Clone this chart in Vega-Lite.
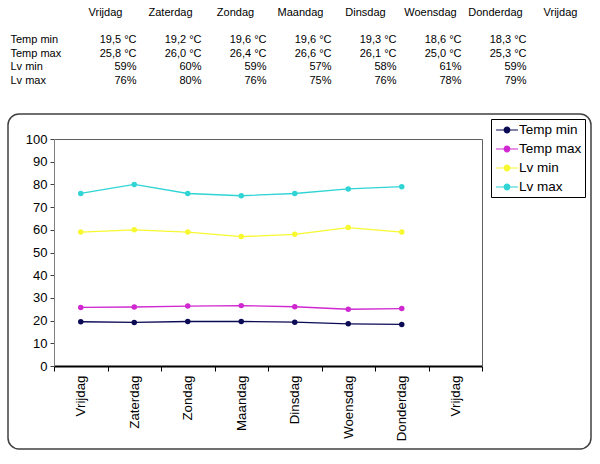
{
  "$schema": "https://vega.github.io/schema/vega-lite/v6.json",
  "padding": {"left": 0, "top": 0, "right": 0, "bottom": 0},
  "spacing": 3,
  "background": "white",
  "config": {"font": "Liberation Sans", "view": {"stroke": null}},
  "datasets": {
    "tabel": [
      {"rij": "head", "kol": 1, "tekst": "Vrijdag"},
      {"rij": "head", "kol": 2, "tekst": "Zaterdag"},
      {"rij": "head", "kol": 3, "tekst": "Zondag"},
      {"rij": "head", "kol": 4, "tekst": "Maandag"},
      {"rij": "head", "kol": 5, "tekst": "Dinsdag"},
      {"rij": "head", "kol": 6, "tekst": "Woensdag"},
      {"rij": "head", "kol": 7, "tekst": "Donderdag"},
      {"rij": "head", "kol": 8, "tekst": "Vrijdag"},
      {"rij": "Temp min", "kol": 0, "tekst": "Temp min"},
      {"rij": "Temp max", "kol": 0, "tekst": "Temp max"},
      {"rij": "Lv min", "kol": 0, "tekst": "Lv min"},
      {"rij": "Lv max", "kol": 0, "tekst": "Lv max"},
      {"rij": "Temp min", "kol": 1, "tekst": "19,5 °C"},
      {"rij": "Temp min", "kol": 2, "tekst": "19,2 °C"},
      {"rij": "Temp min", "kol": 3, "tekst": "19,6 °C"},
      {"rij": "Temp min", "kol": 4, "tekst": "19,6 °C"},
      {"rij": "Temp min", "kol": 5, "tekst": "19,3 °C"},
      {"rij": "Temp min", "kol": 6, "tekst": "18,6 °C"},
      {"rij": "Temp min", "kol": 7, "tekst": "18,3 °C"},
      {"rij": "Temp max", "kol": 1, "tekst": "25,8 °C"},
      {"rij": "Temp max", "kol": 2, "tekst": "26,0 °C"},
      {"rij": "Temp max", "kol": 3, "tekst": "26,4 °C"},
      {"rij": "Temp max", "kol": 4, "tekst": "26,6 °C"},
      {"rij": "Temp max", "kol": 5, "tekst": "26,1 °C"},
      {"rij": "Temp max", "kol": 6, "tekst": "25,0 °C"},
      {"rij": "Temp max", "kol": 7, "tekst": "25,3 °C"},
      {"rij": "Lv min", "kol": 1, "tekst": "59%"},
      {"rij": "Lv min", "kol": 2, "tekst": "60%"},
      {"rij": "Lv min", "kol": 3, "tekst": "59%"},
      {"rij": "Lv min", "kol": 4, "tekst": "57%"},
      {"rij": "Lv min", "kol": 5, "tekst": "58%"},
      {"rij": "Lv min", "kol": 6, "tekst": "61%"},
      {"rij": "Lv min", "kol": 7, "tekst": "59%"},
      {"rij": "Lv max", "kol": 1, "tekst": "76%"},
      {"rij": "Lv max", "kol": 2, "tekst": "80%"},
      {"rij": "Lv max", "kol": 3, "tekst": "76%"},
      {"rij": "Lv max", "kol": 4, "tekst": "75%"},
      {"rij": "Lv max", "kol": 5, "tekst": "76%"},
      {"rij": "Lv max", "kol": 6, "tekst": "78%"},
      {"rij": "Lv max", "kol": 7, "tekst": "79%"}
    ],
    "reeks": [
      {"nr": 1, "serie": "Temp min", "waarde": 19.5},
      {"nr": 2, "serie": "Temp min", "waarde": 19.2},
      {"nr": 3, "serie": "Temp min", "waarde": 19.6},
      {"nr": 4, "serie": "Temp min", "waarde": 19.6},
      {"nr": 5, "serie": "Temp min", "waarde": 19.3},
      {"nr": 6, "serie": "Temp min", "waarde": 18.6},
      {"nr": 7, "serie": "Temp min", "waarde": 18.3},
      {"nr": 1, "serie": "Temp max", "waarde": 25.8},
      {"nr": 2, "serie": "Temp max", "waarde": 26.0},
      {"nr": 3, "serie": "Temp max", "waarde": 26.4},
      {"nr": 4, "serie": "Temp max", "waarde": 26.6},
      {"nr": 5, "serie": "Temp max", "waarde": 26.1},
      {"nr": 6, "serie": "Temp max", "waarde": 25.0},
      {"nr": 7, "serie": "Temp max", "waarde": 25.3},
      {"nr": 1, "serie": "Lv min", "waarde": 59},
      {"nr": 2, "serie": "Lv min", "waarde": 60},
      {"nr": 3, "serie": "Lv min", "waarde": 59},
      {"nr": 4, "serie": "Lv min", "waarde": 57},
      {"nr": 5, "serie": "Lv min", "waarde": 58},
      {"nr": 6, "serie": "Lv min", "waarde": 61},
      {"nr": 7, "serie": "Lv min", "waarde": 59},
      {"nr": 1, "serie": "Lv max", "waarde": 76},
      {"nr": 2, "serie": "Lv max", "waarde": 80},
      {"nr": 3, "serie": "Lv max", "waarde": 76},
      {"nr": 4, "serie": "Lv max", "waarde": 75},
      {"nr": 5, "serie": "Lv max", "waarde": 76},
      {"nr": 6, "serie": "Lv max", "waarde": 78},
      {"nr": 7, "serie": "Lv max", "waarde": 79}
    ]
  },
  "vconcat": [
    {
      "width": 583,
      "height": 110,
      "data": {"name": "tabel"},
      "encoding": {
        "x": {"field": "kol", "type": "quantitative", "axis": null,
              "scale": {"domain": [0, 8], "range": [32.5, 552.5], "nice": false, "zero": false}},
        "y": {"field": "rij", "type": "ordinal", "axis": null,
              "scale": {"type": "point", "domain": ["head", "gap", "Temp min", "Temp max", "Lv min", "Lv max"], "range": [13, 81], "padding": 0}},
        "text": {"field": "tekst"}
      },
      "layer": [
        {"transform": [{"filter": "datum.rij == 'head'"}],
         "mark": {"type": "text", "align": "center", "baseline": "middle", "fontSize": 11, "color": "black"}},
        {"transform": [{"filter": "datum.rij != 'head' && datum.kol > 0"}],
         "mark": {"type": "text", "align": "right", "baseline": "middle", "dx": 31, "fontSize": 11, "color": "black"}},
        {"transform": [{"filter": "datum.kol == 0"}],
         "mark": {"type": "text", "align": "left", "baseline": "middle", "dx": -30, "fontSize": 11, "color": "black"}}
      ]
    },
    {
      "width": 583,
      "height": 335,
      "view": {"stroke": "#404040", "strokeWidth": 1.5, "cornerRadius": 11, "fill": "white"},
      "data": {"name": "reeks"},
      "encoding": {
        "x": {"field": "nr", "type": "ordinal",
              "scale": {"type": "band", "domain": [1, 2, 3, 4, 5, 6, 7, 8], "range": [46, 474], "paddingInner": 0, "paddingOuter": 0}},
        "y": {"field": "waarde", "type": "quantitative",
              "scale": {"domain": [0, 100], "range": [252, 25], "nice": false, "zero": true}},
        "color": {"field": "serie", "type": "nominal",
                  "scale": {"domain": ["Temp min", "Temp max", "Lv min", "Lv max"], "range": ["#0A0A55", "#D028D0", "#F8F830", "#30D4D4"]},
                  "legend": {"title": null, "orient": "none", "legendX": 483, "legendY": 119,
                             "strokeColor": "#000000", "fillColor": "white", "padding": 3, "rowPadding": 4,
                             "labelFont": "Liberation Sans", "labelFontSize": 13.5, "labelColor": "black", "labelOffset": 4,
                             "symbolType": "M-1.57,0L1.57,0M-0.4,0A0.4,0.4,0,1,0,0.4,0A0.4,0.4,0,1,0,-0.4,0Z",
                             "symbolSize": 196, "symbolStrokeWidth": 1.2, "symbolOffset": 5,
                             "encode": {"symbols": {"update": {"fill": {"scale": "color", "field": "value"}, "stroke": {"scale": "color", "field": "value"}, "opacity": {"value": 1}}}}}}
      },
      "resolve": {"axis": {"x": "independent", "y": "independent"}},
      "layer": [
        {
          "mark": {"type": "line", "strokeWidth": 1.3},
          "encoding": {
            "x": {"field": "nr", "type": "ordinal",
                  "axis": {"orient": "bottom", "offset": -83, "title": null, "tickBand": "extent",
                           "labelExpr": "['', 'Vrijdag', 'Zaterdag', 'Zondag', 'Maandag', 'Dinsdag', 'Woensdag', 'Donderdag', 'Vrijdag'][datum.value]",
                           "labelAngle": -90, "labelFontSize": 13.3, "labelFont": "Liberation Sans", "labelColor": "black", "labelPadding": 4,
                           "domainColor": "black", "domainWidth": 2, "tickColor": "black", "tickSize": 5, "tickWidth": 1}},
            "y": {"field": "waarde", "type": "quantitative",
                  "axis": {"orient": "left", "offset": -46, "title": null, "values": [0, 10, 20, 30, 40, 50, 60, 70, 80, 90, 100],
                           "grid": false, "labelFontSize": 13, "labelFont": "Liberation Sans", "labelColor": "black", "labelPadding": 3,
                           "domainColor": "#808080", "domainWidth": 1, "tickColor": "#404040", "tickSize": 4}}
          }
        },
        {
          "mark": {"type": "point", "filled": true, "size": 30, "opacity": 1},
          "encoding": {
            "x": {"field": "nr", "type": "ordinal",
                  "axis": {"orient": "top", "offset": -25, "title": null, "labels": false, "ticks": false, "domainColor": "#606060", "domainWidth": 1}},
            "y": {"field": "waarde", "type": "quantitative",
                  "axis": {"orient": "right", "offset": -109, "title": null, "labels": false, "ticks": false, "grid": false, "domainColor": "#606060", "domainWidth": 1}}
          }
        }
      ]
    }
  ]
}
